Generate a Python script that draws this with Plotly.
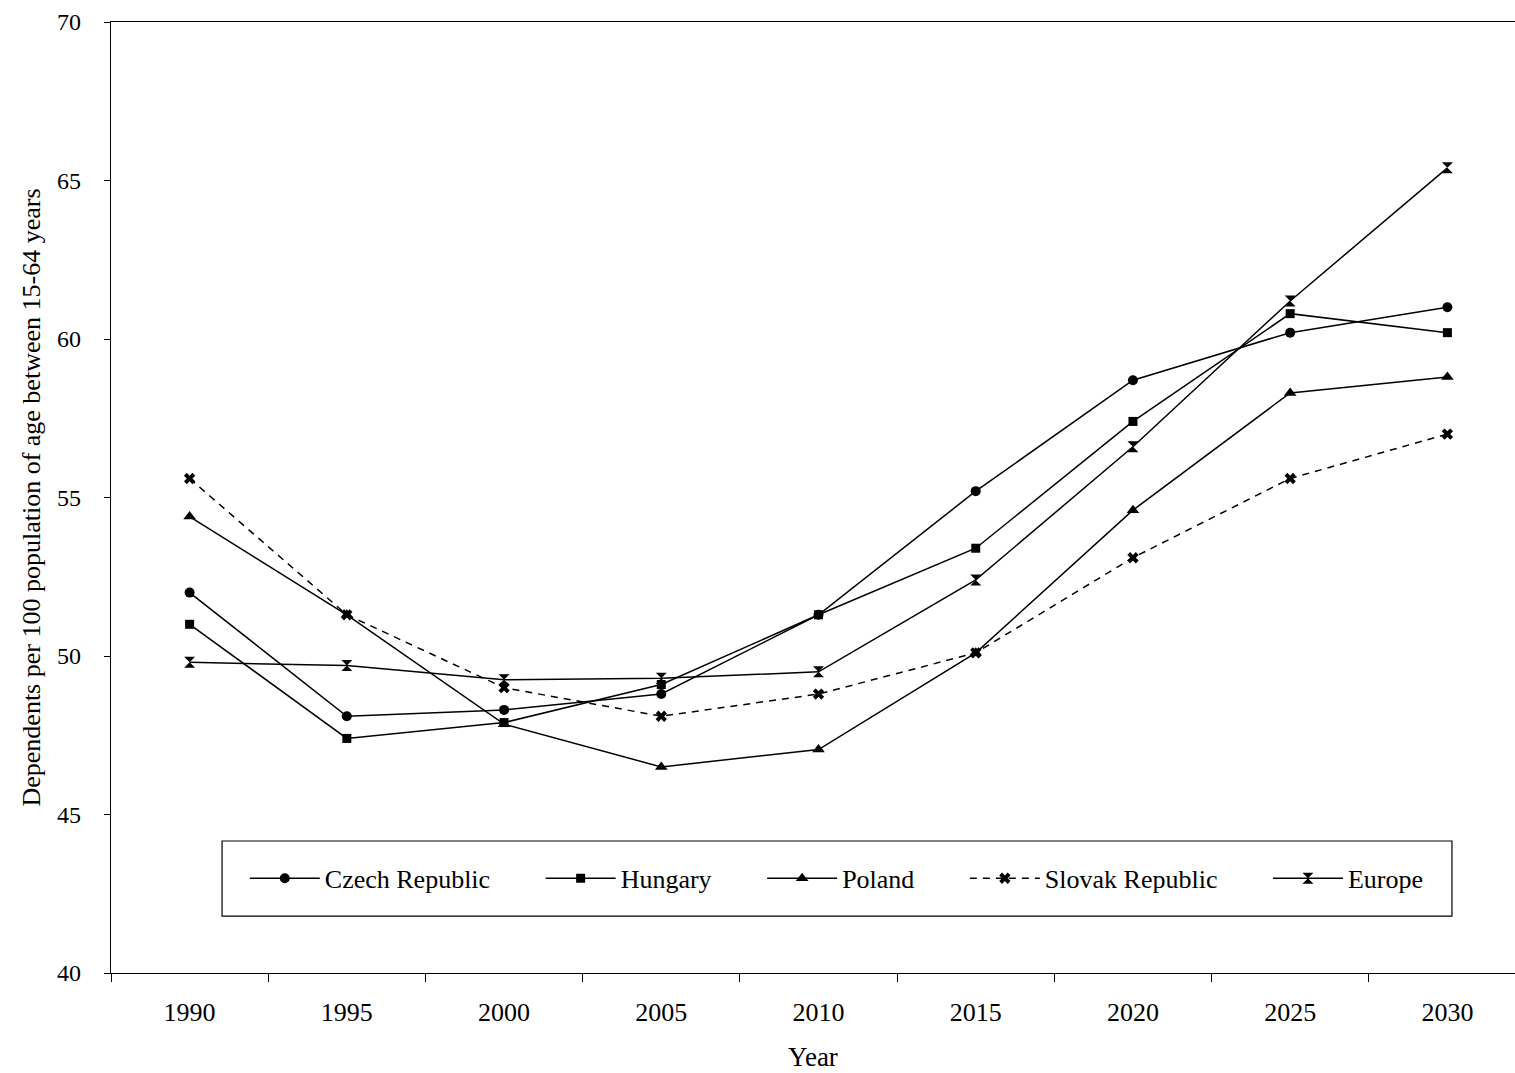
import plotly.graph_objects as go

# Old-age plus youth dependency ratios, 1990-2030
years = ["1990", "1995", "2000", "2005", "2010", "2015", "2020", "2025", "2030"]

czech = [52.0, 48.1, 48.3, 48.8, 51.3, 55.2, 58.7, 60.2, 61.0]
hungary = [51.0, 47.4, 47.9, 49.1, 51.3, 53.4, 57.4, 60.8, 60.2]
poland = [54.4, 51.3, 47.85, 46.5, 47.05, 50.1, 54.6, 58.3, 58.8]
slovakia = [55.6, 51.3, 49.0, 48.1, 48.8, 50.1, 53.1, 55.6, 57.0]
europe = [49.8, 49.7, 49.25, 49.3, 49.5, 52.4, 56.6, 61.2, 65.4]

y_ticks = [40, 45, 50, 55, 60, 65, 70]

FONT = "Liberation Serif, Times New Roman, serif"
BLACK = "#000000"
PAD = "\u00a0" * 7  # spacing between legend entries

series = [
    ("Czech Republic", czech, "circle", "solid", 10, PAD),
    ("Hungary", hungary, "square", "solid", 9, PAD),
    ("Poland", poland, "triangle-up", "solid", 11, PAD),
    ("Slovak Republic", slovakia, "x", "7px,6px", 10, PAD),
    ("Europe", europe, "hourglass", "solid", 11, ""),
]

fig = go.Figure()
for name, vals, sym, dash, size, pad in series:
    fig.add_trace(go.Scatter(
        x=years, y=vals, name=name + pad, mode="lines+markers",
        line=dict(color=BLACK, width=1.5, dash=dash),
        marker=dict(symbol=sym, size=size, color=BLACK,
                    line=dict(width=0, color=BLACK)),
    ))

# frame around the legend
fig.add_shape(type="rect", xref="paper", yref="paper",
              x0=0.0791, x1=0.9551, y0=0.0599, y1=0.1388,
              line=dict(color=BLACK, width=1.2), fillcolor="rgba(0,0,0,0)")

fig.update_layout(
    width=1515, height=1073,
    margin=dict(l=111, r=0, t=22, b=100),
    paper_bgcolor="white", plot_bgcolor="white",
    font=dict(family=FONT, size=26, color=BLACK),
    showlegend=True,
    legend=dict(
        orientation="h", x=0.0953, y=0.0995, xanchor="left", yanchor="middle",
        bgcolor="rgba(0,0,0,0)", borderwidth=0,
        font=dict(family=FONT, size=26, color=BLACK),
        itemwidth=70,
    ),
    xaxis=dict(
        type="category", range=[-0.5, 8.43],
        tickson="boundaries", ticks="outside", ticklen=8, tickwidth=1,
        tickcolor=BLACK, showline=True, linecolor=BLACK, linewidth=1.2,
        mirror=True, showgrid=False, zeroline=False,
        tickfont=dict(family=FONT, size=26), ticklabelstandoff=16,
        title=dict(text="Year", font=dict(family=FONT, size=27), standoff=20),
    ),
    yaxis=dict(
        range=[40, 70], tickvals=y_ticks, ticks="outside", ticklen=6,
        tickwidth=1, tickcolor=BLACK, showline=True, linecolor=BLACK,
        linewidth=1.2, showgrid=False, zeroline=False,
        tickfont=dict(family=FONT, size=24), ticklabelstandoff=18,
        title=dict(text="Dependents per 100 population of age between 15-64 years",
                   font=dict(family=FONT, size=26), standoff=8),
    ),
)

fig.write_html("out.html")
